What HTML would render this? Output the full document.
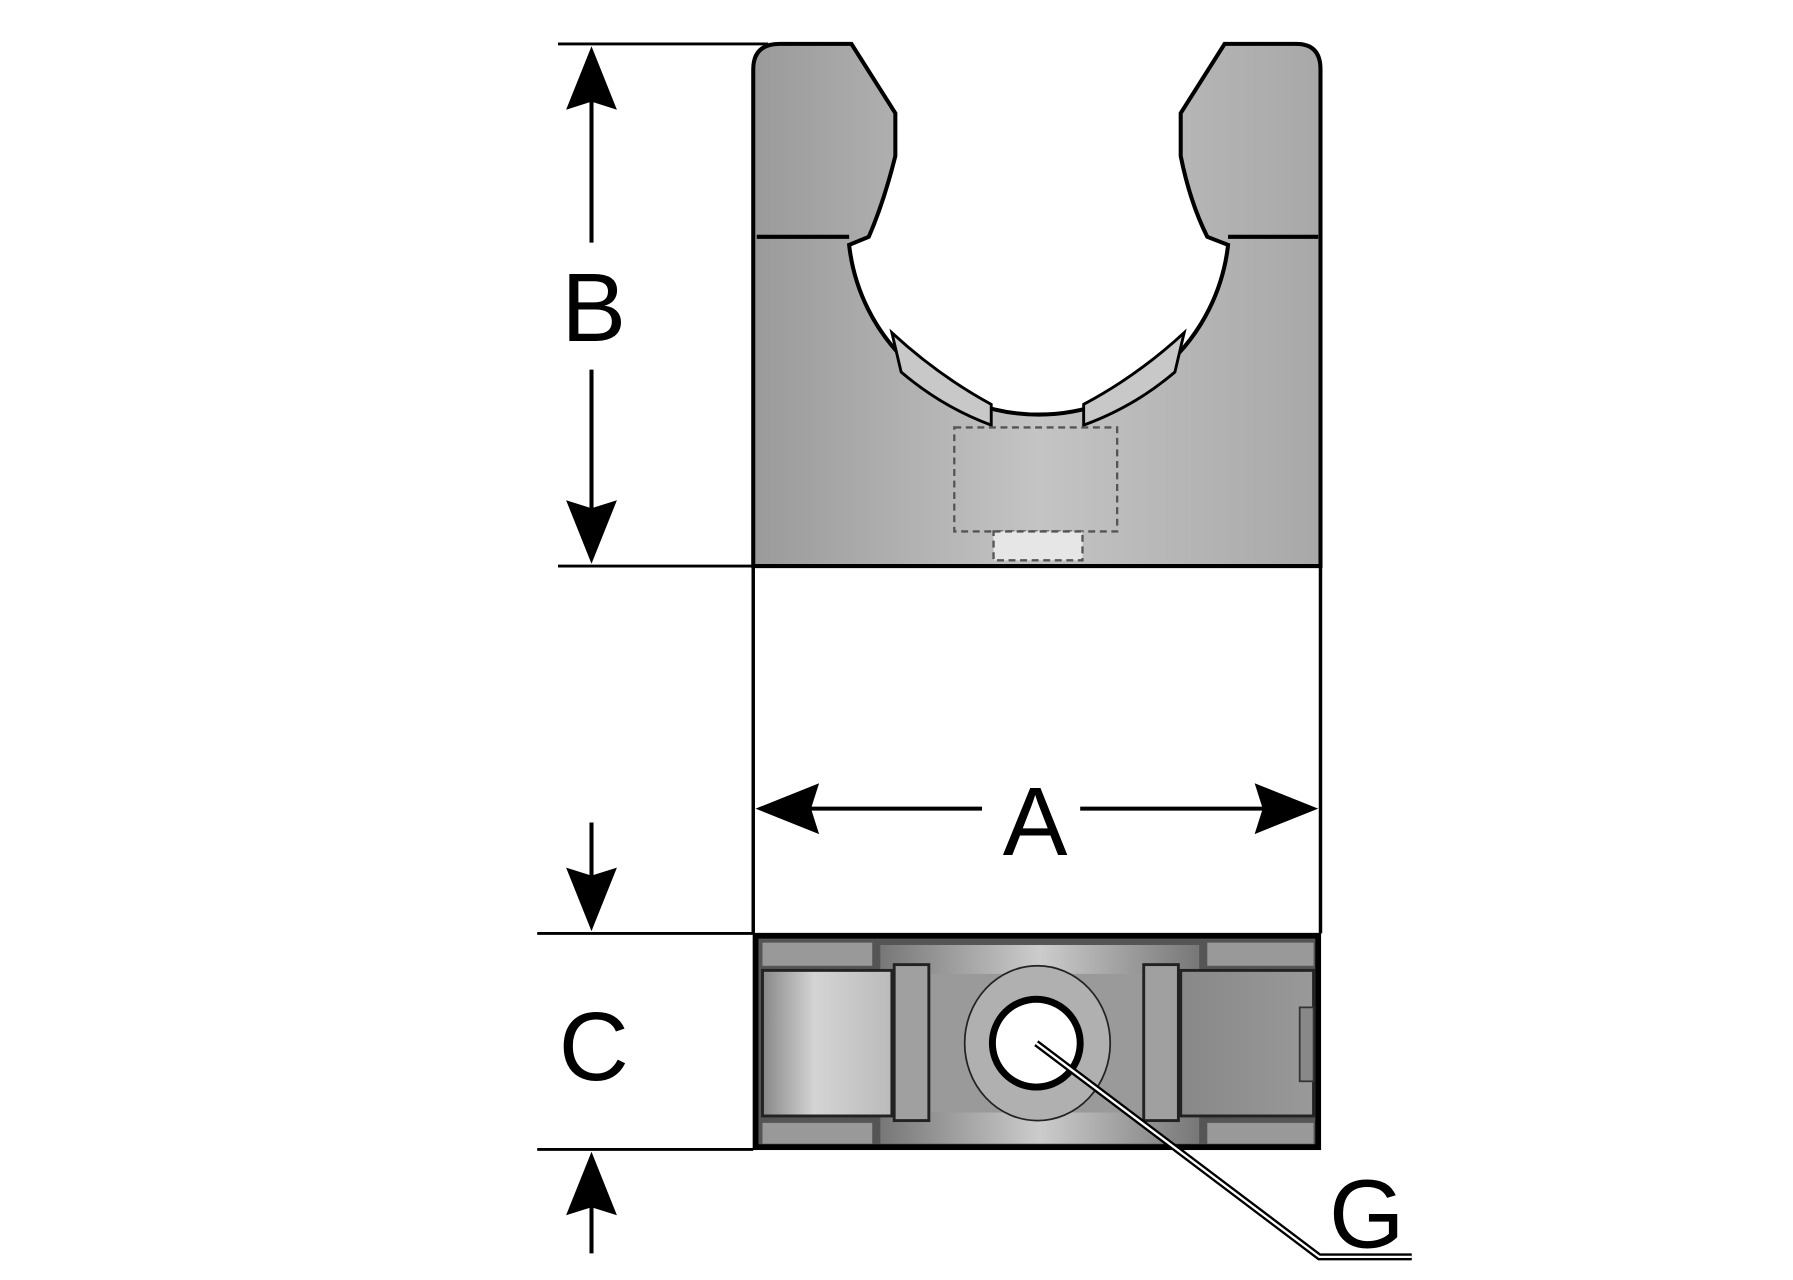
<!DOCTYPE html>
<html><head><meta charset="utf-8"><style>html,body{margin:0;padding:0;background:#fff}svg{display:block}</style></head><body>
<svg width="1793" height="1280" viewBox="0 0 1552 1108" preserveAspectRatio="none" xmlns="http://www.w3.org/2000/svg">
<defs>
<linearGradient id="g1" x1="0" y1="0" x2="1" y2="0"><stop offset="0" stop-color="#9a9a9a"/><stop offset=".5" stop-color="#c4c4c4"/><stop offset="1" stop-color="#a8a8a8"/></linearGradient>
<linearGradient id="g2" x1="0" y1="0" x2="1" y2="0"><stop offset="0" stop-color="#888"/><stop offset=".4" stop-color="#d4d4d4"/><stop offset="1" stop-color="#bbb"/></linearGradient>
<linearGradient id="g3" x1="0" y1="0" x2="1" y2="0"><stop offset="0" stop-color="#777"/><stop offset=".5" stop-color="#ccc"/><stop offset="1" stop-color="#777"/></linearGradient>
<linearGradient id="g4" x1="0" y1="0" x2="1" y2="0"><stop offset="0" stop-color="#888"/><stop offset="1" stop-color="#999"/></linearGradient>
</defs>
<g stroke="#000" stroke-width="3.5" fill="none">
<path d="M652,490 L652,60 Q652,38 675,38 L737,38 L775,98 L775,135 Q765,175 752,205 L735,212 A165,165 0 0 0 1063,212 L1045,205 Q1030,175 1022,135 L1022,98 L1060,38 L1122,38 Q1143,38 1143,60 L1143,490 Z" fill="url(#g1)"/>
<path d="M655,205 L735,205 M1063,205 L1141,205"/>
<path d="M772,288 L780,322 Q815,352 858,368 L858,350 Q812,325 772,288 Z" fill="#c8c8c8" stroke-width="2.5"/>
<path d="M1025,288 L1017,322 Q982,352 938,368 L938,350 Q985,325 1025,288 Z" fill="#c8c8c8" stroke-width="2.5"/>
<rect x="826" y="370" width="141" height="90" stroke="#555" stroke-width="2" stroke-dasharray="6,4"/>
<rect x="860" y="460" width="77" height="25" stroke="#555" stroke-width="2" stroke-dasharray="6,4" fill="#e6e6e6"/>
<path d="M652,490 L652,808 M1143,490 L1143,808" stroke-width="3"/>
<path d="M483,38 L665,38 M483,490 L652,490 M465,808 L652,808 M465,995 L652,995" stroke-width="2.5"/>
<path d="M512,80 L512,210 M512,320 L512,450 M695,700 L850,700 M935,700 L1100,700 M512,712 L512,770 M512,1033 L512,1085" stroke-width="3.5"/>
</g>
<g fill="#000">
<polygon points="512,40 490,95 512,88 534,95"/>
<polygon points="512,488 490,433 512,440 534,433"/>
<polygon points="654,700 709,678 702,700 709,722"/>
<polygon points="1141,700 1086,678 1093,700 1086,722"/>
<polygon points="512,806 490,751 512,758 534,751"/>
<polygon points="512,997 490,1052 512,1045 534,1052"/>
</g>
<g font-family="Liberation Sans, sans-serif" font-size="84" text-anchor="middle" fill="#000">
<text x="514" y="295">B</text>
<text x="896" y="740">A</text>
<text x="514" y="935">C</text>
<text x="1183" y="1080">G</text>
</g>
<rect x="654" y="810" width="487" height="183" fill="#555" stroke="#000" stroke-width="5"/>
<rect x="660" y="816" width="95" height="20" fill="#999"/>
<rect x="1045" y="816" width="92" height="20" fill="#999"/>
<rect x="660" y="972" width="95" height="18" fill="#999"/>
<rect x="1045" y="972" width="92" height="18" fill="#999"/>
<rect x="762" y="818" width="276" height="172" fill="url(#g3)"/>
<rect x="660" y="840" width="112" height="126" fill="url(#g2)" stroke="#222" stroke-width="2.5"/>
<rect x="774" y="835" width="30" height="135" fill="#a0a0a0" stroke="#222" stroke-width="2.5"/>
<rect x="990" y="835" width="30" height="135" fill="#a0a0a0" stroke="#222" stroke-width="2.5"/>
<rect x="1022" y="840" width="115" height="126" fill="url(#g4)" stroke="#222" stroke-width="2.5"/>
<rect x="1125" y="872" width="12" height="64" fill="#888" stroke="#333" stroke-width="1.5"/>
<rect x="806" y="843" width="182" height="120" fill="#9a9a9a"/>
<ellipse cx="898" cy="903" rx="63" ry="67" fill="#b0b0b0" stroke="#222" stroke-width="1.5"/>
<circle cx="897" cy="903" r="38" fill="#fff" stroke="#000" stroke-width="6"/>
<path d="M897,903 L1142,1088 L1222,1088" stroke="#000" stroke-width="6" fill="none"/>
<path d="M897,903 L1142,1088 L1222,1088" stroke="#fff" stroke-width="2" fill="none"/>
</svg>
</body></html>
